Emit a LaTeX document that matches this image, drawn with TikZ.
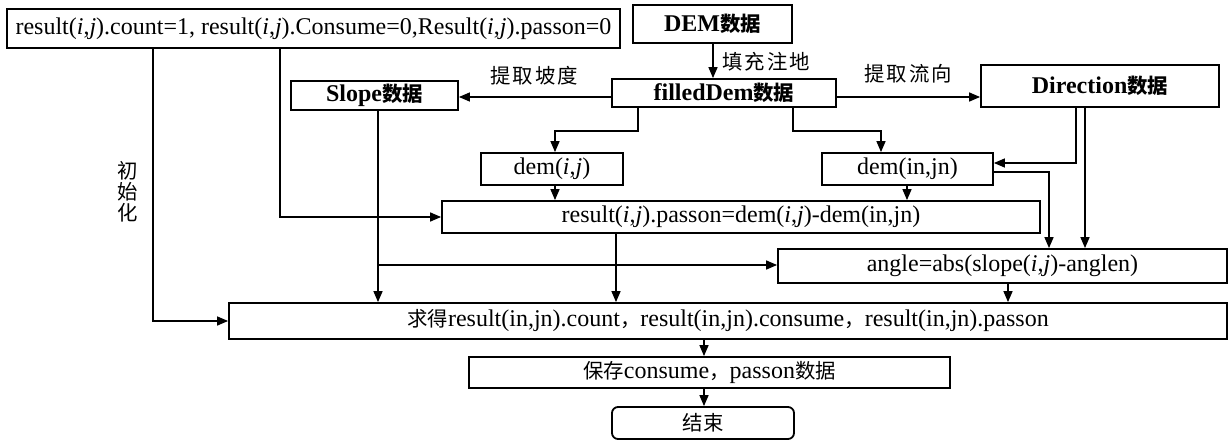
\documentclass[tikz,border=0pt]{standalone}
\usepackage{fontspec}
\setmainfont{Liberation Serif}
\newfontfamily\cjk[Scale=0.85]{Noto Sans CJK SC}
\usetikzlibrary{arrows.meta}
\newcommand{\ijpair}{(\textit{i},\textit{j})}
\begin{document}
\begin{tikzpicture}[x=1pt,y=-1pt,
  box/.style={draw,line width=1.8pt,rectangle,inner sep=0pt,
    font=\fontsize{24}{28}\selectfont},
  conn/.style={line width=1.5pt,-{Triangle[length=11pt,width=9pt]}},
  lab/.style={inner sep=0pt,font=\fontsize{24}{21}\selectfont\cjk}]
\useasboundingbox (0,0) rectangle (1229,447);

% boxes
\node[box,minimum width=613pt,minimum height=39pt] (init) at (313.5,28.5)
  {result\ijpair.count=1, result\ijpair.Consume=0,Result\ijpair.passon=0};
\node[box,minimum width=159pt,minimum height=38pt] (dem) at (712.5,24)
  {\bfseries DEM{\cjk 数据}};
\node[box,minimum width=224pt,minimum height=28pt] (filled) at (724,93)
  {\bfseries filledDem{\cjk 数据}};
\node[box,minimum width=167pt,minimum height=29pt] (slope) at (374.5,95.5)
  {\bfseries Slope{\cjk 数据}};
\node[box,minimum width=238pt,minimum height=42pt] (dir) at (1100,86)
  {\bfseries Direction{\cjk 数据}};
\node[box,minimum width=142pt,minimum height=32pt] (demij) at (552,169)
  {dem\ijpair};
\node[box,minimum width=171pt,minimum height=32pt] (demin) at (907.5,169)
  {dem(in,jn)};
\node[box,minimum width=598pt,minimum height=32pt] (passon) at (741,217)
  {result\ijpair.passon=dem\ijpair-dem(in,jn)};
\node[box,minimum width=449pt,minimum height=34pt] (angle) at (1002.5,266)
  {angle=abs(slope\ijpair-anglen)};
\node[box,minimum width=998pt,minimum height=36pt] (result) at (728,321)
  {{\cjk 求得}result(in,jn).count{\cjk ，}result(in,jn).consume{\cjk ，}result(in,jn).passon};
\node[box,minimum width=481pt,minimum height=31pt] (save) at (709.5,372.5)
  {{\cjk 保存}consume{\cjk ，}passon{\cjk 数据}};
\node[box,rounded corners=6pt,minimum width=182pt,minimum height=32pt] (endbox) at (703,423)
  {{\cjk 结束}};

% edge labels
\node[lab] (lfill) at (766,62) {填\hskip2pt 充\hskip2pt 注\hskip2pt 地};
\node[lab] (lslope) at (534,76) {提\hskip2pt 取\hskip2pt 坡\hskip2pt 度};
\node[lab] (ldir) at (908,74) {提\hskip2pt 取\hskip2pt 流\hskip2pt 向};
\node[lab,align=center] (linit) at (128,192) {初\\始\\化};

% column and row guides for the connectors
\coordinate (c153) at (153,0);
\coordinate (c280) at (280,0);
\coordinate (c378) at (378,0);
\coordinate (c555) at (555,0);
\coordinate (c616) at (616,0);
\coordinate (c638) at (638,0);
\coordinate (c704) at (704,0);
\coordinate (c793) at (793,0);
\coordinate (c881) at (881,0);
\coordinate (c907) at (907,0);
\coordinate (c1008) at (1008,0);
\coordinate (c1049) at (1049,0);
\coordinate (c1076) at (1076,0);
\coordinate (c1085) at (1085,0);
\coordinate (r97) at (0,97);
\coordinate (r131) at (0,131);
\coordinate (r163) at (0,163);
\coordinate (r172) at (0,172);
\coordinate (r217) at (0,217);
\coordinate (r265) at (0,265);
\coordinate (r321) at (0,321);

% connectors
\draw[conn] (dem.south -| c704) ++(9,0) coordinate (dtop) -- (dtop |- filled.north);
\draw[conn] (filled.west |- r97) -- (slope.east |- r97);
\draw[conn] (filled.east |- r97) -- (dir.west |- r97);
\draw[conn] (c638 |- filled.south) -- (c638 |- r131) -- (c555 |- r131) -- (c555 |- demij.north);
\draw[conn] (c793 |- filled.south) -- (c793 |- r131) -- (c881 |- r131) -- (c881 |- demin.north);
\draw[conn] (c153 |- init.south) -- (c153 |- r321) -- (result.west |- r321);
\draw[conn] (c280 |- init.south) -- (c280 |- r217) -- (passon.west |- r217);
\draw[conn] (c378 |- slope.south) -- (c378 |- result.north);
\draw[conn] (c378 |- r265) -- (angle.west |- r265);
\draw[conn] (c555 |- demij.south) -- (c555 |- passon.north);
\draw[conn] (c907 |- demin.south) -- (c907 |- passon.north);
\draw[conn] (c616 |- passon.south) -- (c616 |- result.north);
\draw[conn] (c1076 |- dir.south) -- (c1076 |- r163) -- (demin.east |- r163);
\draw[conn] (demin.east |- r172) -- (c1049 |- r172) -- (c1049 |- angle.north);
\draw[conn] (c1085 |- dir.south) -- (c1085 |- angle.north);
\draw[conn] (c1008 |- angle.south) -- (c1008 |- result.north);
\draw[conn] (c704 |- result.south) -- (c704 |- save.north);
\draw[conn] (c704 |- save.south) -- (c704 |- endbox.north);
\end{tikzpicture}
\end{document}
